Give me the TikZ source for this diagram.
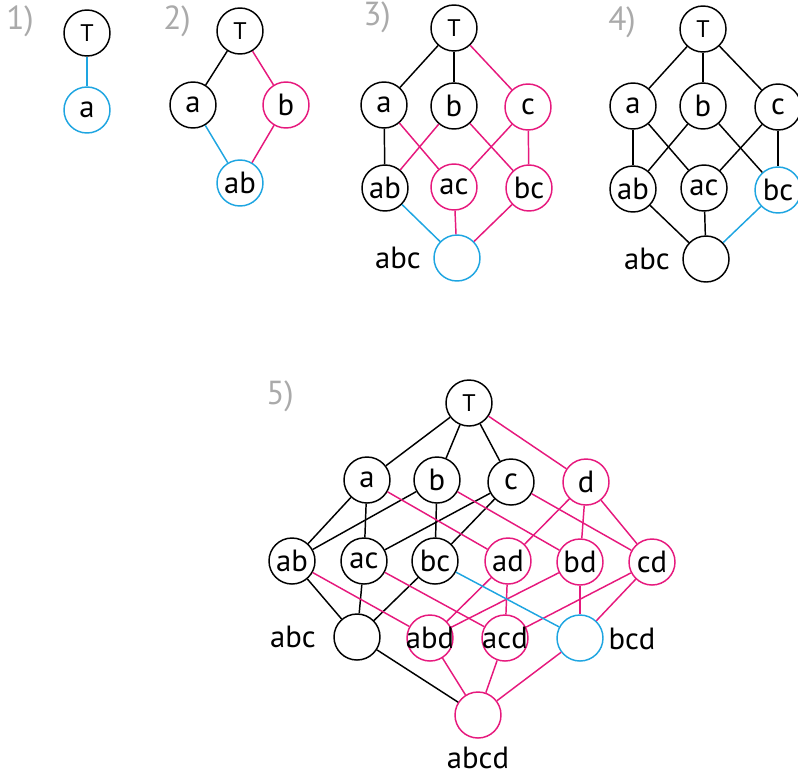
\documentclass[tikz,border=0pt]{standalone}
\usepackage{fontspec}
\setmainfont{PT Sans}
\usetikzlibrary{positioning}
\definecolor{lmag}{RGB}{230,25,125}
\definecolor{lblue}{RGB}{30,165,225}
\definecolor{lgray}{RGB}{170,170,170}
\newcommand{\vlab}[1]{\makebox[0pt]{#1}}

\begin{document}
\begin{tikzpicture}[x=0.75pt, y=-0.75pt,
    vtx/.style={circle, draw, line width=1.1pt, minimum size=34.5pt, inner sep=0pt, font=\fontsize{23}{23}\selectfont},
    topv/.style={vtx, font=\fontsize{18}{18}\selectfont},
    magv/.style={vtx, draw=lmag},
    bluev/.style={vtx, draw=lblue},
    lbl/.style={font=\fontsize{23}{23}\selectfont, inner sep=1pt},
    num/.style={font=\fontsize{25}{25}\selectfont, text=lgray},
    ed/.style={line width=1.1pt},
    mage/.style={ed, draw=lmag},
    bluee/.style={ed, draw=lblue}]

    \useasboundingbox (0,0) rectangle (798,776);

    % 1)
    \node[num] (n1) at (20,21) {1)};
    \node[topv] (t1) at (87,33) {T};
    \node[bluev] (a1) at (87,110) {\vlab{a}};
    \draw[bluee] (t1) -- (a1);

    % 2)
    \node[num] (n2) at (177,21) {2)};
    \node[topv] (t2) at (240,31) {T};
    \node[vtx] (a2) at (193,105) {\vlab{a}};
    \node[magv] (b2) at (286,105) {\vlab{b}};
    \node[bluev] (ab2) at (240,183) {\vlab{ab}};
    \draw[ed] (t2) -- (a2);
    \draw[mage] (t2) -- (b2);
    \draw[bluee] (a2) -- (ab2);
    \draw[mage] (b2) -- (ab2);

    % 3)
    \node[num] (n3) at (377,17) {3)};
    \node[topv] (t3) at (454,28) {T};
    \node[vtx] (a3) at (384,105) {\vlab{a}};
    \node[vtx] (b3) at (454,106) {\vlab{b}};
    \node[magv] (c3) at (528,107) {\vlab{c}};
    \node[vtx] (ab3) at (385,188) {\vlab{ab}};
    \node[magv] (ac3) at (454,187) {\vlab{ac}};
    \node[magv] (bc3) at (529,188) {\vlab{bc}};
    \node[bluev] (abc3) at (457,258) {};
    \node[lbl] (l3) at (398,258) {abc};
    \foreach \u/\v in {t3/a3, t3/b3, a3/ab3}
        \draw[ed] (\u) -- (\v);
    \foreach \u/\v in {t3/c3, a3/ac3, b3/ab3, b3/bc3, c3/ac3, c3/bc3, ac3/abc3, bc3/abc3}
        \draw[mage] (\u) -- (\v);
    \draw[bluee] (ab3) -- (abc3);

    % 4)
    \node[num] (n4) at (622,22) {4)};
    \node[topv] (t4) at (703,29) {T};
    \node[vtx] (a4) at (633,106) {\vlab{a}};
    \node[vtx] (b4) at (703,106) {\vlab{b}};
    \node[vtx] (c4) at (778,107) {\vlab{c}};
    \node[vtx] (ab4) at (633,189) {\vlab{ab}};
    \node[vtx] (ac4) at (704,188) {\vlab{ac}};
    \node[bluev] (bc4) at (778,190) {\vlab{bc}};
    \node[vtx] (abc4) at (706,259) {};
    \node[lbl] (l4) at (647,259) {abc};
    \foreach \u/\v in {t4/a4, t4/b4, t4/c4, a4/ab4, a4/ac4, b4/ab4, b4/bc4, c4/ac4, c4/bc4, ab4/abc4, ac4/abc4}
        \draw[ed] (\u) -- (\v);
    \draw[bluee] (bc4) -- (abc4);

    % 5)
    \node[num] (n5) at (280,396) {5)};
    \node[topv] (t5) at (469,403) {T};
    \node[vtx] (a5) at (367,480) {\vlab{a}};
    \node[vtx] (b5) at (437,480) {\vlab{b}};
    \node[vtx] (c5) at (511,482) {\vlab{c}};
    \node[magv] (d5) at (586,482) {\vlab{d}};
    \node[vtx] (ab5) at (292,561) {\vlab{ab}};
    \node[vtx] (ac5) at (364,561) {\vlab{ac}};
    \node[vtx] (bc5) at (435,561) {\vlab{bc}};
    \node[magv] (ad5) at (508,561) {\vlab{ad}};
    \node[magv] (bd5) at (580,562) {\vlab{bd}};
    \node[magv] (cd5) at (652,562) {\vlab{cd}};
    \node[vtx] (abc5) at (357,637) {};
    \node[magv] (abd5) at (430,638) {\vlab{abd}};
    \node[magv] (acd5) at (505,638) {\vlab{acd}};
    \node[bluev] (bcd5) at (580,638) {};
    \node[magv] (abcd5) at (478,715) {};
    \node[lbl] (l5a) at (293,637) {abc};
    \node[lbl] (l5b) at (632,639) {bcd};
    \node[lbl] (l5c) at (478,758) {abcd};
    \foreach \u/\v in {t5/a5, t5/b5, t5/c5, a5/ab5, a5/ac5, b5/ab5, b5/bc5, c5/ac5, c5/bc5,
                       ab5/abc5, ac5/abc5, bc5/abc5, abc5/abcd5}
        \draw[ed] (\u) -- (\v);
    \foreach \u/\v in {t5/d5, a5/ad5, b5/bd5, c5/cd5, d5/ad5, d5/bd5, d5/cd5, ab5/abd5, ac5/acd5,
                       ad5/abd5, ad5/acd5, bd5/abd5, bd5/bcd5, cd5/acd5, cd5/bcd5,
                       abd5/abcd5, acd5/abcd5, bcd5/abcd5}
        \draw[mage] (\u) -- (\v);
    \draw[bluee] (bc5) -- (bcd5);
\end{tikzpicture}
\end{document}
